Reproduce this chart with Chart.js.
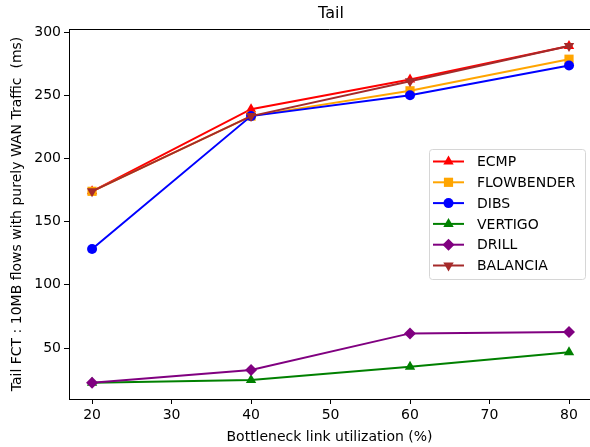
<!DOCTYPE html>
<html>
<head>
<meta charset="utf-8">
<script src="https://cdn.jsdelivr.net/npm/chart.js@4/dist/chart.umd.min.js"></script>
<style>
  html, body { margin: 0; padding: 0; overflow: hidden; background: #fff; }
  #wrap { width: 590px; height: 447px; }
</style>
</head>
<body>
<div id="wrap"><canvas id="tailChart" width="590" height="447"></canvas></div>
<script>
// Data
const utilization = [20, 40, 60, 80];
const ecmp = [174, 239, 262.5, 289];
const flowbender = [174, 233.5, 253.5, 278.5];
const dibs = [128.3, 233.5, 250, 273.5];
const vertigo = [22.6, 24.7, 35.2, 46.6];
const drill = [22.6, 32.6, 61.6, 62.7];
const balancia = [174, 233.5, 261, 289];

const xTicks = [20, 30, 40, 50, 60, 70, 80];
const yTicks = [50, 100, 150, 200, 250, 300];

const FONT = 'DejaVu Sans';

function series(label, values, color, pointStyle, rotation, radius, order) {
  return {
    label: label,
    data: utilization.map((x, i) => ({ x: x, y: values[i] })),
    borderColor: color,
    backgroundColor: color,
    borderWidth: 2,
    pointStyle: pointStyle,
    pointRotation: rotation,
    pointRadius: radius,
    pointBorderWidth: 0,
    tension: 0,
    order: order
  };
}

// Top spine + title + legend drawn in the matplotlib style
// (the right spine falls just outside the picture)
const framePlugin = {
  id: 'frame',
  afterDraw(chart) {
    const ctx = chart.ctx;
    const a = chart.chartArea;
    ctx.save();
    ctx.strokeStyle = '#000';
    ctx.lineWidth = 1;
    ctx.beginPath();
    ctx.moveTo(a.left, a.top + 0.5);
    ctx.lineTo(a.right, a.top + 0.5);
    ctx.stroke();

    ctx.fillStyle = '#000';
    ctx.font = '16px "' + FONT + '"';
    ctx.textAlign = 'center';
    ctx.textBaseline = 'middle';
    ctx.fillText('Tail', 331, 14);

    // legend
    const bx = 429, by = 149, bw = 156, bh = 130;
    ctx.beginPath();
    ctx.roundRect(bx + 0.5, by + 0.5, bw, bh, 3);
    ctx.fillStyle = 'rgba(255,255,255,0.8)';
    ctx.fill();
    ctx.strokeStyle = '#d6d6d6';
    ctx.stroke();
    ctx.font = '14px "' + FONT + '"';
    ctx.textAlign = 'left';
    chart.data.datasets.forEach((ds, i) => {
      const y = 161.5 + i * 20.8;
      ctx.strokeStyle = ds.borderColor;
      ctx.lineWidth = 2;
      ctx.beginPath();
      ctx.moveTo(433, y);
      ctx.lineTo(464, y);
      ctx.stroke();
      ctx.fillStyle = ds.backgroundColor;
      Chart.helpers.drawPoint(ctx, {
        pointStyle: ds.pointStyle, rotation: ds.pointRotation,
        radius: ds.pointRadius, borderWidth: 0
      }, 448.5, y);
      ctx.fillStyle = '#000';
      ctx.fillText(ds.label, 477, y + 1);
    });
    ctx.restore();
  }
};

new Chart(document.getElementById('tailChart'), {
  type: 'line',
  data: {
    datasets: [
      series('ECMP', ecmp, '#ff0000', 'triangle', 0, 6, 5),
      series('FLOWBENDER', flowbender, '#ffa500', 'rect', 0, 6.5, 4),
      series('DIBS', dibs, '#0000ff', 'circle', 0, 5, 3),
      series('VERTIGO', vertigo, '#008000', 'triangle', 0, 6, 2),
      series('DRILL', drill, '#800080', 'rectRot', 0, 6, 1),
      series('BALANCIA', balancia, '#a52a2a', 'triangle', 180, 6, 0)
    ]
  },
  options: {
    responsive: false,
    animation: false,
    layout: { autoPadding: false, padding: { top: 29, right: 0, left: 0, bottom: 0 } },
    plugins: {
      legend: { display: false },
      tooltip: { enabled: false },
      title: { display: false }
    },
    scales: {
      x: {
        type: 'linear',
        min: 17.1,
        max: 82.64,
        afterBuildTicks: s => { s.ticks = xTicks.map(v => ({ value: v })); },
        afterFit: s => { s.height = 48; },
        grid: { drawOnChartArea: false, tickLength: 5, color: '#000' },
        border: { display: true, color: '#000' },
        ticks: { color: '#000', font: { family: FONT, size: 14 }, padding: 3, maxRotation: 0 },
        title: {
          display: true, text: 'Bottleneck link utilization (%)',
          color: '#000', font: { family: FONT, size: 14 }, padding: { top: 0, bottom: 1 }
        }
      },
      y: {
        type: 'linear',
        min: 9.7,
        max: 302.4,
        afterBuildTicks: s => { s.ticks = yTicks.map(v => ({ value: v })); },
        afterFit: s => { s.width = 69; },
        grid: { drawOnChartArea: false, tickLength: 5, color: '#000' },
        border: { display: true, color: '#000' },
        ticks: { color: '#000', font: { family: FONT, size: 14 }, padding: 3 },
        title: {
          display: true, text: 'Tail FCT : 10MB flows with purely WAN Traffic  (ms)',
          color: '#000', font: { family: FONT, size: 14 }, padding: { top: 9, bottom: 0 }
        }
      }
    }
  },
  plugins: [framePlugin]
});
</script>
</body>
</html>
